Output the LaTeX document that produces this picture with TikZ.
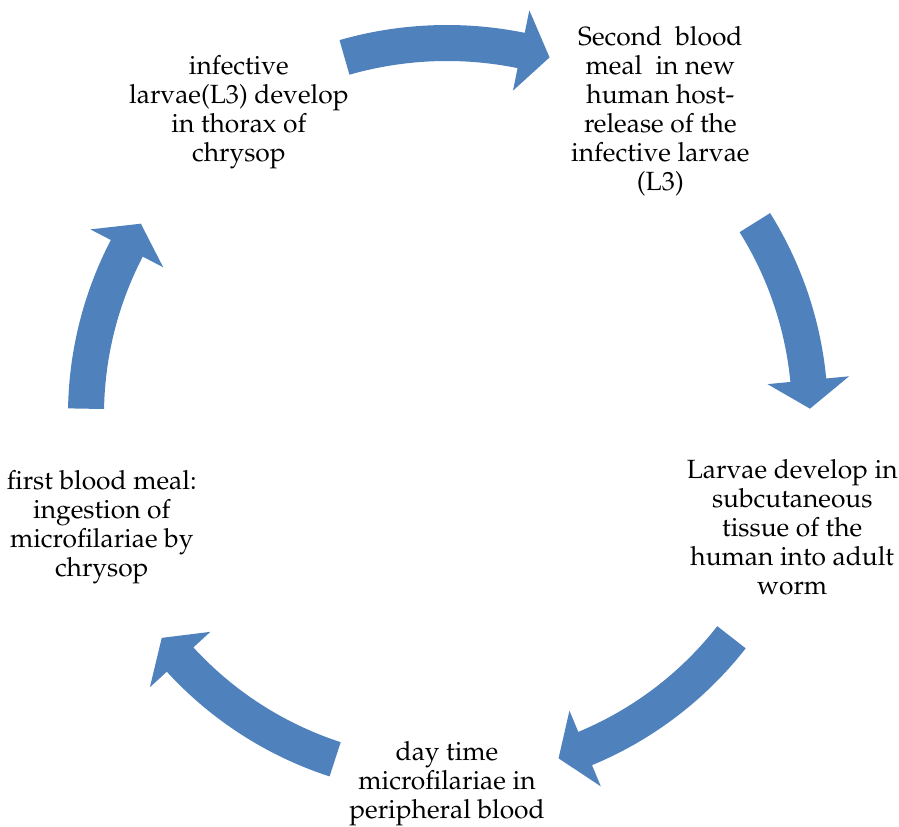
\documentclass[tikz,border=0pt]{standalone}
\usepackage[T1]{fontenc}
\usepackage{mathpazo}
\usepackage{xcolor}
\definecolor{cycblue}{RGB}{79,129,189}
\usepackage{tikz}
\usetikzlibrary{calc}

\begin{document}
\begin{tikzpicture}[x=0.02cm, y=0.02cm,
    stage/.style={align=center, inner sep=0pt,
      font=\fontsize{15}{16.5}\selectfont},
    cycarrow/.style={fill=cycblue}]
\useasboundingbox (0,0) rectangle (899,826);
\coordinate (c) at (447,411);

% the five stages, evenly spread on the circle
\node[stage, yshift=6] (meal2) at ($(c)+(54:363)$) {Second~ blood\\meal~ in new\\human host-\\release of the\\infective larvae\\(L3)};
\node[stage] (adult) at ($(c)+(-18:363)$) {Larvae develop in\\subcutaneous\\tissue of the\\human into adult\\worm};
\node[stage, yshift=-3] (mf) at ($(c)+(-90:363)$) {day time\\microfilariae in\\peripheral blood};
\node[stage] (meal1) at ($(c)+(198:363)$) {first blood meal:\\ingestion of\\microfilariae by\\chrysop};
\node[stage, yshift=5, xshift=3] (thorax) at ($(c)+(126:363)$) {infective\\larvae(L3) develop\\in thorax of\\chrysop};

% curved block arrows between the stages
% \m: middle angle, \r: radius, \a: tail offset, \b: tip offset
\foreach \m/\r/\a/\b in {90/372/16/16, 18/363/14/17, -54/361/16/18, -126/362/18/16, 162/361/17/14} {
  \fill[cycarrow] ($(c)+(\m+\a:\r+18)$)
    arc[start angle=\m+\a, end angle=\m-\b+4.5, radius=\r+18]
    -- ($(c)+(\m-\b+4.5:\r+41)$) -- ($(c)+(\m-\b:\r)$)
    -- ($(c)+(\m-\b+4.5:\r-41)$) -- ($(c)+(\m-\b+4.5:\r-18)$)
    arc[start angle=\m-\b+4.5, end angle=\m+\a, radius=\r-18] -- cycle;
}
\end{tikzpicture}
\end{document}
